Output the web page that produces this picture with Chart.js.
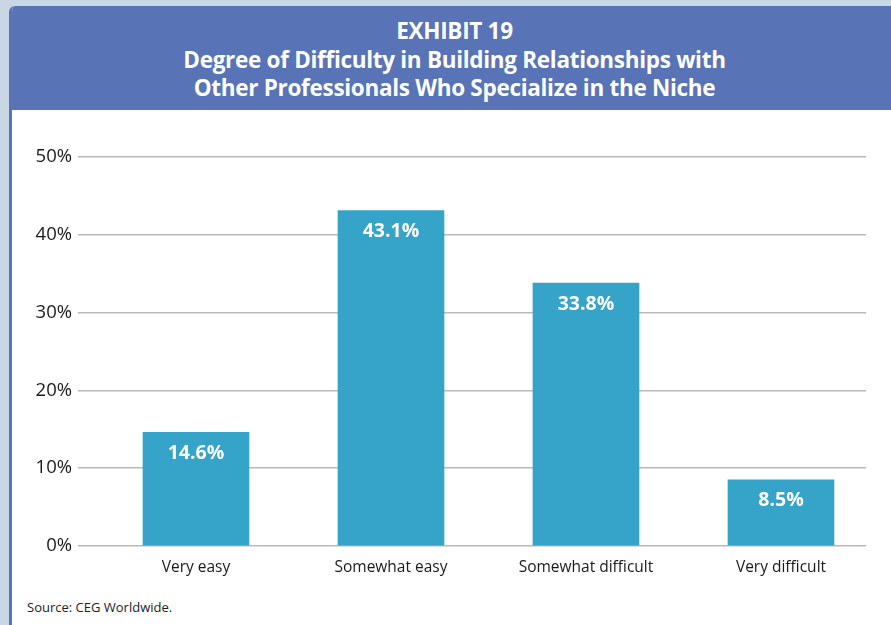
<!DOCTYPE html>
<html>
<head>
<meta charset="utf-8">
<script src="https://cdn.jsdelivr.net/npm/chart.js@4/dist/chart.umd.min.js"></script>
<style>
  html, body { margin: 0; padding: 0; }
  body { width: 891px; height: 625px; background: #c9d6e4; position: relative; overflow: hidden;
         font-family: "Open Sans", "Noto Sans", sans-serif; }
  #panel { position: absolute; left: 9px; top: 6px; width: 879px; height: 619px; background: #ffffff;
           border-left: 3px solid #5873b6; border-top-left-radius: 6px; overflow: hidden; }
  #header { position: absolute; left: 0; top: 0; width: 100%; height: 104px; background: #5873b6;
            color: #ffffff; text-align: center; font-weight: 700; font-size: 22.5px; line-height: 28.5px;
            padding-top: 11px; box-sizing: border-box; letter-spacing: -0.3px; }
  #header div { margin-left: 6px; }
  #source { position: absolute; left: 27px; top: 598px; font-size: 13px; color: #222; }
  #wrap { position: absolute; left: 0; top: 110px; width: 891px; height: 480px; }
</style>
</head>
<body>
<div id="panel">
  <div id="header">
    <div>EXHIBIT 19</div>
    <div>Degree of Difficulty in Building Relationships with</div>
    <div>Other Professionals Who Specialize in the Niche</div>
  </div>
</div>
<div id="source">Source: CEG Worldwide.</div>
<div id="wrap"><canvas id="chart" width="891" height="480"></canvas></div>
<script>
const categories = ["Very easy", "Somewhat easy", "Somewhat difficult", "Very difficult"];
const shares = [14.6, 43.1, 33.8, 8.5];
const yTicks = [0, 10, 20, 30, 40, 50];

const barColor = "#35a4c8";

// White value labels near the top inside each bar
const valueLabels = {
  id: "valueLabels",
  afterDatasetsDraw(chart) {
    const ctx = chart.ctx;
    const meta = chart.getDatasetMeta(0);
    ctx.save();
    ctx.fillStyle = "#ffffff";
    ctx.font = "700 19.5px 'Open Sans', 'Noto Sans', sans-serif";
    ctx.textAlign = "center";
    ctx.textBaseline = "middle";
    meta.data.forEach((bar, i) => {
      ctx.fillText(shares[i].toFixed(1) + "%", bar.x, bar.y + 21);
    });
    ctx.restore();
  }
};

new Chart(document.getElementById("chart"), {
  type: "bar",
  data: {
    datasets: [{
      data: shares.map((v, i) => ({ x: i, y: v })),
      backgroundColor: barColor,
      borderWidth: 0,
      barThickness: 106
    }]
  },
  options: {
    responsive: false,
    animation: false,
    events: [],
    layout: { padding: { left: 0, right: 25, top: 47, bottom: 0 } },
    plugins: { legend: { display: false }, tooltip: { enabled: false } },
    scales: {
      x: {
        type: "linear",
        offset: false,
        min: -0.605,
        max: 3.436,
        afterBuildTicks(scale) { scale.ticks = categories.map((c, i) => ({ value: i })); },
        afterFit(scale) { scale.height = 44; },
        grid: { display: false, drawTicks: false, offset: false },
        border: { display: false },
        ticks: {
          padding: 12,
          color: "#1a1a1a",
          font: { family: "'Open Sans', 'Noto Sans', sans-serif", size: 15.5 },
          callback: (v) => categories[v]
        }
      },
      y: {
        min: 0,
        max: 50,
        afterBuildTicks(scale) { scale.ticks = yTicks.map(v => ({ value: v })); },
        afterFit(scale) { scale.width = 78; },
        grid: { color: "#b9b9b9", lineWidth: 1.5, drawTicks: false },
        border: { display: false },
        ticks: {
          padding: 6,
          color: "#1a1a1a",
          font: { family: "'Open Sans', 'Noto Sans', sans-serif", size: 18.5 },
          callback: (v) => v + "%"
        }
      }
    }
  },
  plugins: [valueLabels]
});
</script>
</body>
</html>
